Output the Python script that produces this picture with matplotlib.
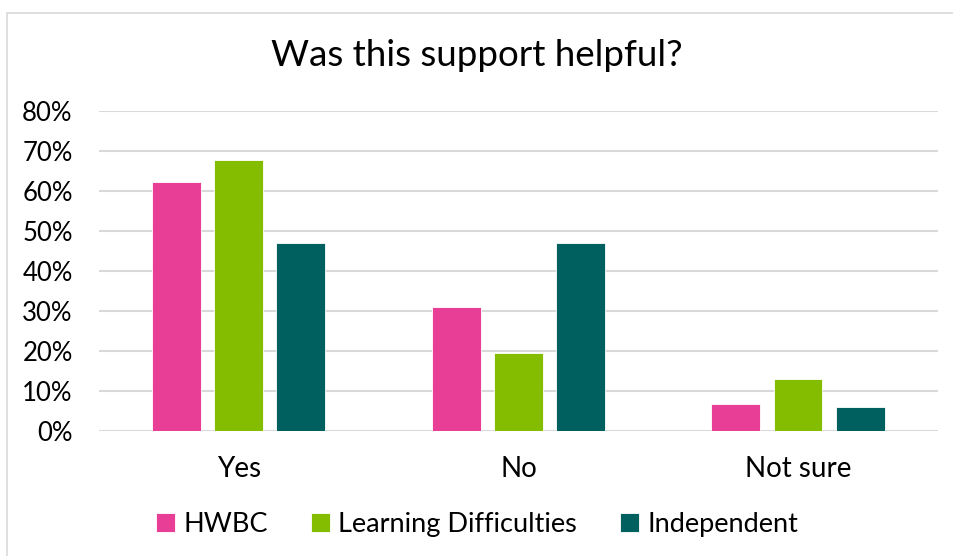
import numpy as np
import matplotlib.pyplot as plt
from matplotlib.patches import Rectangle

plt.rcParams['font.family'] = ['Lato', 'DejaVu Sans']

# answers and share per group
categories = ['Yes', 'No', 'Not sure']
hwbc = [0.622, 0.311, 0.067]
learning = [0.677, 0.194, 0.129]
independent = [0.471, 0.471, 0.059]
series_names = ['HWBC', 'Learning Difficulties', 'Independent']
colors = ['#E83E96', '#84BD00', '#006060']

fig = plt.figure(figsize=(9.54, 5.56), dpi=100)
ax = fig.add_axes([0.1038, 0.2248, 0.8792, 0.5756])

x = np.arange(len(categories))
w = 0.175
step = 0.222
for i, (vals, name, c) in enumerate(zip([hwbc, learning, independent], series_names, colors)):
    ax.bar(x + (i - 1) * step, vals, width=w, color=c, label=name,
           edgecolor='white', linewidth=0.6, zorder=3)

ax.set_xlim(-0.5, 2.5)
ax.set_ylim(0, 0.8)
ax.set_yticks(np.arange(0, 0.81, 0.1))
ax.set_yticklabels([f'{int(round(v*100))}%' for v in np.arange(0, 0.81, 0.1)], fontsize=18.5)
ax.set_xticks(x)
ax.set_xticklabels(categories, fontsize=20)
ax.tick_params(axis='both', length=0)
ax.tick_params(axis='x', pad=18)
ax.tick_params(axis='y', pad=19)
ax.grid(axis='y', color='#D9D9D9', linewidth=1.5, zorder=0)
for s in ax.spines.values():
    s.set_visible(False)

fig.text(0.5, 0.901, 'Was this support helpful?', ha='center', va='center', fontsize=26.5)

fig.legend(loc='center', bbox_to_anchor=(0.5, 0.056), ncol=3, frameon=False,
           fontsize=19.5, handlelength=0.7, handleheight=0.7, handletextpad=0.3,
           columnspacing=1.6)

# light frame around the chart
fig.patches.append(Rectangle((7 / 954, -0.1), 1.2, 1 - 13 / 556 + 0.1,
                             transform=fig.transFigure, fill=False,
                             edgecolor='#D9D9D9', linewidth=1.2))

fig.savefig('out.png', dpi=100)
